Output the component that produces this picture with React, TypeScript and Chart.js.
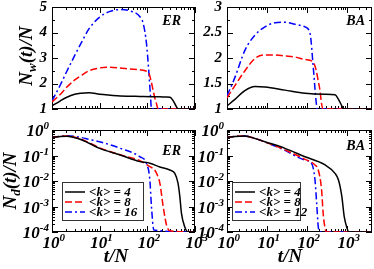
import React, { useEffect, useRef } from "react";
import { Chart, registerables } from "chart.js";
Chart.register(...registerables);

const W = 374;
const H = 269;
const FONT = '"Liberation Serif", "Times New Roman", serif';

// ---------- DATA ----------
// Top-left: ER, N_w(t)/N
const erWT4 = [1, 1.5, 2, 3, 4, 6, 10, 17, 27, 45, 70, 120, 180, 250, 300, 350, 410, 445, 1000];
const erW4 = [1.12, 1.32, 1.45, 1.58, 1.62, 1.64, 1.58, 1.54, 1.51, 1.5, 1.49, 1.48, 1.48, 1.47, 1.46, 1.32, 1.08, 1.0, 1.0];
const erWT8 = [1, 1.5, 2, 3, 4, 6, 10, 16, 27, 43, 70, 96, 108, 120, 133, 145, 156, 168, 1000];
const erW8 = [1.28, 1.58, 1.84, 2.14, 2.3, 2.5, 2.61, 2.64, 2.61, 2.57, 2.54, 2.48, 2.4, 2.1, 1.71, 1.4, 1.2, 1.0, 1.0];
const erWT16 = [1, 1.5, 2, 3, 4, 6, 10, 16, 27, 43, 70, 82, 96, 108, 117, 122, 1000];
const erW16 = [1.32, 1.95, 2.44, 3.1, 3.55, 4.15, 4.6, 4.82, 4.9, 4.85, 4.62, 4.35, 3.57, 2.4, 1.45, 1.0, 1.0];

// Top-right: BA, N_w(t)/N
const baWT4 = [1, 1.58, 2.8, 5, 8.9, 28, 89, 282, 500, 610, 740, 815, 4200];
const baW4 = [1.06, 1.19, 1.36, 1.44, 1.43, 1.37, 1.31, 1.29, 1.28, 1.19, 1.06, 1.0, 1.0];
const baWT8 = [1, 1.58, 2.8, 5, 8.9, 15.8, 28, 50, 89, 143, 170, 190, 211, 231, 253, 4200];
const baW8 = [1.22, 1.46, 1.75, 1.99, 2.06, 2.06, 2.04, 2.02, 1.97, 1.92, 1.75, 1.55, 1.36, 1.1, 1.0, 1.0];
const baWT12 = [1, 1.58, 2.8, 5, 8.9, 15.8, 28, 50, 89, 119, 143, 168, 180, 4200];
const baW12 = [1.26, 1.62, 2.15, 2.45, 2.61, 2.69, 2.7, 2.66, 2.61, 2.48, 1.82, 1.16, 1.0, 1.0];

// Bottom-left: ER, N_d(t)/N
const erDT4 = [1, 1.5, 2, 3, 4, 6, 10, 27, 70, 113, 183, 296, 377, 440, 480, 520, 610, 720, 1000];
const erD4 = [0.513, 0.562, 0.575, 0.501, 0.427, 0.302, 0.191, 0.105, 0.0575, 0.0501, 0.0355, 0.0269, 0.02, 0.00832, 0.00251, 0.000537, 0.000158, 0.0001, 0.0001];
const erDT8 = [1, 1.5, 2, 3, 4, 6, 10, 27, 70, 113, 140, 156, 183, 215, 253, 296, 1000];
const erD8 = [0.513, 0.562, 0.582, 0.525, 0.447, 0.316, 0.2, 0.107, 0.0631, 0.0363, 0.0282, 0.02, 0.00832, 0.001, 0.000186, 0.000112, 0.0001];
const erDT16 = [1, 1.5, 2, 3, 4, 6, 10, 27, 70, 96, 113, 122, 137, 1000];
const erD16 = [0.513, 0.562, 0.589, 0.562, 0.513, 0.427, 0.347, 0.191, 0.0891, 0.049, 0.011, 0.001, 0.00012, 0.0001];

// Bottom-right: BA, N_d(t)/N
const baDT4 = [1, 1.58, 2.8, 5, 8.9, 28, 89, 282, 500, 610, 740, 850, 1000, 1100, 4200];
const baD4 = [0.513, 0.562, 0.582, 0.468, 0.347, 0.191, 0.0891, 0.0427, 0.02, 0.011, 0.00251, 0.000398, 0.000141, 0.0001, 0.0001];
const baDT8 = [1, 1.58, 2.8, 5, 8.9, 28, 89, 158, 191, 231, 253, 282, 310, 4200];
const baD8 = [0.513, 0.562, 0.582, 0.468, 0.339, 0.166, 0.0708, 0.0427, 0.0269, 0.00447, 0.000537, 0.000141, 0.0001, 0.0001];
const baDT12 = [1, 1.58, 2.8, 5, 8.9, 28, 89, 130, 158, 174, 191, 210, 4200];
const baD12 = [0.513, 0.562, 0.582, 0.468, 0.339, 0.158, 0.0661, 0.049, 0.011, 0.00135, 0.000158, 0.0001, 0.0001];

const erLabels = ["<k> = 4", "<k> = 8", "<k> = 16"];
const baLabels = ["<k> = 4", "<k> = 8", "<k> = 12"];
const topLeftTicks = [1, 2, 3, 4, 5];
const topLeftMinor = [1.5, 2.5, 3.5, 4.5];
const topRightTicks = [1, 1.5, 2, 2.5, 3];
const topRightMinor = [1.25, 1.75, 2.25, 2.75];
const logExps = [0, -1, -2, -3, -4];
const xExps = [0, 1, 2, 3];

// ---------- STYLES ----------
const STYLES = [
  { color: "#000000", dash: [] as number[] },
  { color: "#ff0000", dash: [7, 3] },
  { color: "#0000ff", dash: [7, 3, 2, 3] },
];

type Series = { t: number[]; v: number[]; label: string };
type Panel = {
  box: [number, number, number, number];
  xMax: number;
  yLog: boolean;
  yMin: number;
  yMax: number;
  yMajor: number[];
  yMinor: number[];
  series: Series[];
  tag: string;
  tagX: number;
  tagY: number;
  yTitle: { sub: string; x: number; y: number };
  xTitleX?: number;
  legend?: { x: number; y: number; w: number; h: number };
};

const panels: Panel[] = [
  {
    box: [52, 7, 195, 109], xMax: 1000, yLog: false, yMin: 1, yMax: 5,
    yMajor: topLeftTicks, yMinor: topLeftMinor,
    series: [
      { t: erWT4, v: erW4, label: erLabels[0] },
      { t: erWT8, v: erW8, label: erLabels[1] },
      { t: erWT16, v: erW16, label: erLabels[2] },
    ],
    tag: "ER", tagX: 181, tagY: 25,
    yTitle: { sub: "w", x: 32, y: 56 },
  },
  {
    box: [227, 7, 372, 109], xMax: 4200, yLog: false, yMin: 1, yMax: 3,
    yMajor: topRightTicks, yMinor: topRightMinor,
    series: [
      { t: baWT4, v: baW4, label: baLabels[0] },
      { t: baWT8, v: baW8, label: baLabels[1] },
      { t: baWT12, v: baW12, label: baLabels[2] },
    ],
    tag: "BA", tagX: 365, tagY: 25,
    yTitle: { sub: "", x: -100, y: 0 },
  },
  {
    box: [52, 130, 195, 232], xMax: 1000, yLog: true, yMin: 1e-4, yMax: 1,
    yMajor: [], yMinor: [],
    series: [
      { t: erDT4, v: erD4, label: erLabels[0] },
      { t: erDT8, v: erD8, label: erLabels[1] },
      { t: erDT16, v: erD16, label: erLabels[2] },
    ],
    tag: "ER", tagX: 181, tagY: 155,
    yTitle: { sub: "d", x: 16, y: 181 },
    xTitleX: 116,
    legend: { x: 62, y: 182, w: 81, h: 38 },
  },
  {
    box: [227, 130, 372, 232], xMax: 4200, yLog: true, yMin: 1e-4, yMax: 1,
    yMajor: [], yMinor: [],
    series: [
      { t: baDT4, v: baD4, label: baLabels[0] },
      { t: baDT8, v: baD8, label: baLabels[1] },
      { t: baDT12, v: baD12, label: baLabels[2] },
    ],
    tag: "BA", tagX: 365, tagY: 150,
    yTitle: { sub: "", x: -100, y: 0 },
    xTitleX: 290,
    legend: { x: 232, y: 182, w: 68, h: 38 },
  },
];

function bi(size: number) {
  return `italic bold ${size}px ${FONT}`;
}

function drawPow(ctx: CanvasRenderingContext2D, exp: string, x: number, y: number, align: "center" | "right") {
  const base = 17;
  const sup = 11;
  ctx.font = bi(base);
  const wb = ctx.measureText("10").width;
  ctx.font = bi(sup);
  const ws = ctx.measureText(exp).width;
  const x0 = align === "center" ? x - wb / 2 : x - wb - ws;
  ctx.textAlign = "left";
  ctx.textBaseline = "alphabetic";
  ctx.font = bi(base);
  ctx.fillText("10", x0, y);
  ctx.font = bi(sup);
  ctx.fillText(exp, x0 + wb, y - 7);
}

function makePlugin(p: Panel, idx: number) {
  return {
    id: "decor" + idx,
    beforeDatasetsDraw(chart: any) {
      const ctx: CanvasRenderingContext2D = chart.ctx;
      const a = chart.chartArea;
      const xs = chart.scales.x;
      const ys = chart.scales.y;
      ctx.save();
      ctx.strokeStyle = "#000";
      ctx.lineWidth = 1;
      ctx.setLineDash([]);
      ctx.strokeRect(a.left + 0.5, a.top + 0.5, a.right - a.left - 1, a.bottom - a.top - 1);
      const seg = (x1: number, y1: number, x2: number, y2: number) => {
        ctx.beginPath();
        ctx.moveTo(x1, y1);
        ctx.lineTo(x2, y2);
        ctx.stroke();
      };
      // x ticks
      for (let d = 0; Math.pow(10, d) <= p.xMax; d++) {
        for (let k = 1; k <= 9; k++) {
          const v = k * Math.pow(10, d);
          if (v > p.xMax) break;
          const px = Math.round(xs.getPixelForValue(v)) + 0.5;
          const len = k === 1 ? 6 : 3;
          seg(px, a.bottom, px, a.bottom - len);
          seg(px, a.top, px, a.top + len);
        }
      }
      // y ticks
      const yt = (v: number, len: number) => {
        const py = Math.round(ys.getPixelForValue(v)) + 0.5;
        seg(a.left, py, a.left + len, py);
        seg(a.right, py, a.right - len, py);
      };
      if (p.yLog) {
        for (let d = -4; d <= 0; d++) {
          yt(Math.pow(10, d), 6);
          if (d < 0) for (let k = 2; k <= 9; k++) yt(k * Math.pow(10, d), 3);
        }
      } else {
        p.yMajor.forEach((v) => yt(v, 6));
        p.yMinor.forEach((v) => yt(v, 3));
      }
      ctx.restore();
    },
    afterDraw(chart: any) {
      const ctx: CanvasRenderingContext2D = chart.ctx;
      const a = chart.chartArea;
      const xs = chart.scales.x;
      const ys = chart.scales.y;
      ctx.save();
      ctx.fillStyle = "#000";
      if (p.yLog) {
        logExps.forEach((e) => {
          const py = ys.getPixelForValue(Math.pow(10, e));
          drawPow(ctx, String(e), a.left - 3, py + 6, "right");
        });
        xExps.forEach((e) => {
          const px = xs.getPixelForValue(Math.pow(10, e));
          drawPow(ctx, String(e), px - 1, 248, "center");
        });
        ctx.font = bi(19);
        ctx.textAlign = "center";
        ctx.textBaseline = "alphabetic";
        ctx.fillText("t/N", p.xTitleX!, 262);
      } else {
        ctx.font = bi(15);
        ctx.textAlign = "right";
        ctx.textBaseline = "middle";
        p.yMajor.forEach((v) => {
          ctx.fillText(String(v), a.left - 5, ys.getPixelForValue(v));
        });
      }
      ctx.font = bi(14);
      ctx.textAlign = "right";
      ctx.textBaseline = "alphabetic";
      ctx.fillText(p.tag, p.tagX, p.tagY);
      if (p.yTitle.sub) {
        const size = 19;
        ctx.save();
        ctx.translate(p.yTitle.x, p.yTitle.y);
        ctx.rotate(-Math.PI / 2);
        ctx.font = bi(size);
        const w1 = ctx.measureText("N").width;
        const w3 = ctx.measureText("(t)/N").width;
        ctx.font = bi(13);
        const w2 = ctx.measureText(p.yTitle.sub).width;
        let x = -(w1 + w2 + w3) / 2;
        ctx.textAlign = "left";
        ctx.font = bi(size);
        ctx.fillText("N", x, 0);
        x += w1;
        ctx.font = bi(13);
        ctx.fillText(p.yTitle.sub, x, 4);
        x += w2;
        ctx.font = bi(size);
        ctx.fillText("(t)/N", x, 0);
        ctx.restore();
      }
      if (p.legend) {
        const L = p.legend;
        ctx.fillStyle = "#fff";
        ctx.fillRect(L.x, L.y, L.w, L.h);
        ctx.strokeStyle = "#333";
        ctx.lineWidth = 1;
        ctx.setLineDash([]);
        ctx.strokeRect(L.x + 0.5, L.y + 0.5, L.w, L.h);
        chart.data.datasets.forEach((ds: any, i: number) => {
          const ry = L.y + 10 + i * 10;
          ctx.strokeStyle = ds.borderColor;
          ctx.lineWidth = 1.5;
          ctx.setLineDash(ds.borderDash || []);
          ctx.beginPath();
          ctx.moveTo(L.x + 3, ry);
          ctx.lineTo(L.x + 23, ry);
          ctx.stroke();
          ctx.setLineDash([]);
          ctx.fillStyle = "#000";
          ctx.font = bi(13);
          ctx.textAlign = "left";
          ctx.textBaseline = "middle";
          ctx.fillText(ds.label, L.x + 27, ry + 0.5);
        });
      }
      ctx.restore();
    },
  };
}

function PanelChart({ p, idx }: { p: Panel; idx: number }) {
  const ref = useRef<HTMLCanvasElement | null>(null);
  useEffect(() => {
    if (!ref.current) return;
    const chart = new Chart(ref.current, {
      type: "line",
      data: {
        datasets: p.series.map((s, i) => ({
          label: s.label,
          data: s.t.map((t, j) => ({ x: t, y: s.v[j] })),
          borderColor: STYLES[i].color,
          borderDash: STYLES[i].dash,
          borderWidth: 1.5,
          pointRadius: 0,
          fill: false,
          cubicInterpolationMode: "monotone" as const,
        })),
      },
      options: {
        responsive: false,
        animation: false,
        devicePixelRatio: 1,
        events: [],
        layout: {
          padding: { left: p.box[0], top: p.box[1], right: W - p.box[2], bottom: H - p.box[3] },
        },
        plugins: { legend: { display: false }, tooltip: { enabled: false }, title: { display: false } },
        scales: {
          x: { type: "logarithmic", min: 1, max: p.xMax, display: false },
          y: { type: p.yLog ? "logarithmic" : "linear", min: p.yMin, max: p.yMax, display: false },
        },
      },
      plugins: [makePlugin(p, idx)],
    } as any);
    return () => chart.destroy();
  }, [p, idx]);
  return (
    <canvas
      ref={ref}
      width={W}
      height={H}
      style={{ position: "absolute", left: 0, top: 0, width: W, height: H }}
    />
  );
}

export default function App() {
  return (
    <div style={{ position: "absolute", left: 0, top: 0, width: W, height: H, background: "#fff" }}>
      {panels.map((p, i) => (
        <PanelChart key={i} p={p} idx={i} />
      ))}
    </div>
  );
}
